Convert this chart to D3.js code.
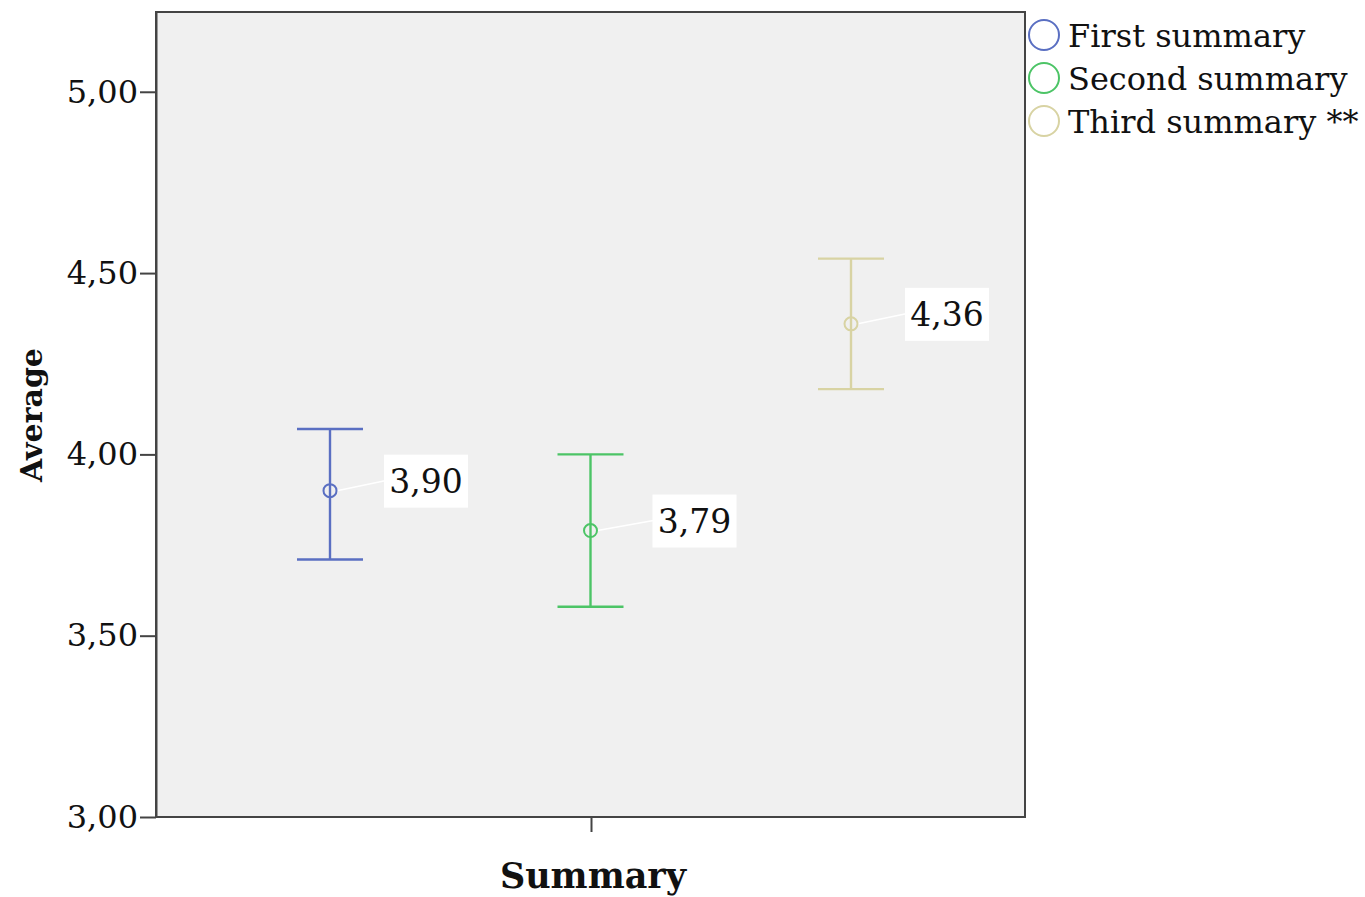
<!DOCTYPE html>
<html>
<head>
<meta charset="utf-8">
<script src="https://cdn.jsdelivr.net/npm/d3@7"></script>
<style>
  body { margin: 0; background: #fff; }
  text { font-family: "DejaVu Serif", serif; fill: #111; }
</style>
</head>
<body>
<svg id="chart" width="1365" height="897"></svg>
<script>
// data
var groups = ["First summary", "Second summary", "Third summary **"];
var means = [3.90, 3.79, 4.36];
var lower = [3.71, 3.58, 4.18];
var upper = [4.07, 4.00, 4.54];
var colors = ["#5a6fc2", "#4cc466", "#d8d3a3"];
var yTicks = [3.0, 3.5, 4.0, 4.5, 5.0];

var svg = d3.select("#chart");
var plotL = 156, plotR = 1025, plotT = 12, plotB = 817;
var labelDx = [54, 62, 54]; // label boxes are nudged a bit differently

var y = d3.scaleLinear().domain([3, 5.22]).range([plotB, plotT]);
var x = d3.scalePoint().domain(groups).range([330, 851]);
var fmt = function(v) { return d3.format(".2f")(v).replace(".", ","); };

svg.append("rect")
  .attr("x", plotL).attr("y", plotT)
  .attr("width", plotR - plotL).attr("height", plotB - plotT)
  .attr("fill", "#f0f0f0")
  .attr("stroke", "#444").attr("stroke-width", 2);

var yAxis = svg.append("g")
  .attr("transform", "translate(" + plotL + ",0)")
  .call(d3.axisLeft(y).tickValues(yTicks).tickSizeInner(16).tickSizeOuter(0).tickPadding(2).tickFormat(fmt));
yAxis.select(".domain").attr("stroke", "#444").attr("stroke-width", 2);
yAxis.selectAll(".tick line").attr("stroke", "#444").attr("stroke-width", 2);
yAxis.selectAll(".tick text")
  .style("font-family", "DejaVu Serif, serif")
  .style("font-size", "32px").attr("fill", "#111");

// single x tick under the middle of the plot
svg.append("line")
  .attr("x1", (plotL + plotR) / 2 + 1).attr("x2", (plotL + plotR) / 2 + 1)
  .attr("y1", plotB).attr("y2", plotB + 15)
  .attr("stroke", "#444").attr("stroke-width", 2);

svg.append("text")
  .attr("x", 593).attr("y", 888)
  .attr("text-anchor", "middle")
  .style("font-size", "35px").style("font-weight", "bold")
  .text("Summary");

svg.append("text")
  .attr("transform", "translate(42,415) rotate(-90)")
  .attr("text-anchor", "middle")
  .style("font-size", "30px").style("font-weight", "bold")
  .text("Average");

var g = svg.selectAll("g.grp")
  .data(groups)
  .enter().append("g").attr("class", "grp");

g.append("line")
  .attr("x1", function(d) { return x(d); }).attr("x2", function(d) { return x(d); })
  .attr("y1", function(d, i) { return y(upper[i]); })
  .attr("y2", function(d, i) { return y(lower[i]); })
  .attr("stroke", function(d, i) { return colors[i]; }).attr("stroke-width", 2.4);

[upper, lower].forEach(function(arr) {
  g.append("line")
    .attr("x1", function(d) { return x(d) - 33; }).attr("x2", function(d) { return x(d) + 33; })
    .attr("y1", function(d, i) { return y(arr[i]); })
    .attr("y2", function(d, i) { return y(arr[i]); })
    .attr("stroke", function(d, i) { return colors[i]; }).attr("stroke-width", 2.4);
});

// leader line to label box
g.append("line")
  .attr("x1", function(d) { return x(d) + 7; })
  .attr("y1", function(d, i) { return y(means[i]); })
  .attr("x2", function(d, i) { return x(d) + labelDx[i] + 1; })
  .attr("y2", function(d, i) { return y(means[i]) - 10; })
  .attr("stroke", "#fff").attr("stroke-width", 1.5);

g.append("circle")
  .attr("cx", function(d) { return x(d); })
  .attr("cy", function(d, i) { return y(means[i]); })
  .attr("r", 6.5)
  .attr("fill", "none")
  .attr("stroke", function(d, i) { return colors[i]; }).attr("stroke-width", 2);

g.append("rect")
  .attr("x", function(d, i) { return x(d) + labelDx[i]; })
  .attr("y", function(d, i) { return y(means[i]) - 36; })
  .attr("width", 84).attr("height", 53)
  .attr("fill", "#fff");

g.append("text")
  .attr("x", function(d, i) { return x(d) + labelDx[i] + 42; })
  .attr("y", function(d, i) { return y(means[i]) + 2; })
  .attr("text-anchor", "middle")
  .style("font-size", "33px")
  .text(function(d, i) { return fmt(means[i]); });

// legend
var leg = svg.selectAll("g.leg")
  .data(groups)
  .enter().append("g").attr("class", "leg")
  .attr("transform", function(d, i) { return "translate(1044," + (35 + i * 43) + ")"; });

leg.append("circle")
  .attr("r", 15)
  .attr("fill", "none")
  .attr("stroke", function(d, i) { return colors[i]; }).attr("stroke-width", 2);

leg.append("text")
  .attr("x", 24).attr("y", 12)
  .style("font-size", "32px")
  .text(function(d) { return d; });
</script>
</body>
</html>
